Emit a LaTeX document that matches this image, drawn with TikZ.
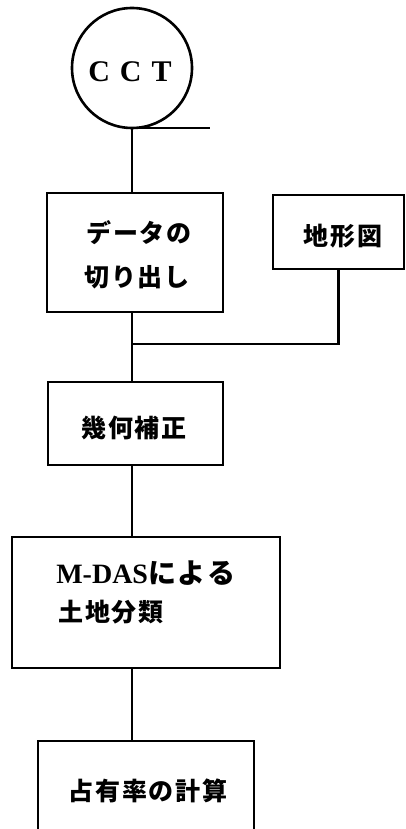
\documentclass[tikz,border=0pt]{standalone}
\usepackage{fontspec}
\setmainfont{Liberation Serif}
\newfontfamily\jpfont[LetterSpace=7]{Noto Sans CJK JP}
\newcommand{\jp}[1]{{\jpfont\bfseries #1}}
\begin{document}
\begin{tikzpicture}[x=1pt,y=-1pt,
  line width=2.6pt,
  boxnode/.style={draw,rectangle,inner sep=0pt,outer sep=0pt},
  txt/.style={inner sep=0pt,font=\fontsize{25}{28}\selectfont},
  lat/.style={inner sep=0pt,font=\fontsize{30}{34}\selectfont\bfseries}]
\clip (0,0) rectangle (406,829);
\fill[white] (0,0) rectangle (406,829);
% circle
\node[draw,circle,minimum size=120pt,inner sep=0pt,outer sep=0pt] (cct) at (132,68) {};
\node[lat] (cctt) at (130,72) {C\,\,C\,\,T};
\coordinate (tagend) at (210,128);
% boxes
\node[boxnode,minimum width=176pt,minimum height=119pt] (cut) at (135,252.5) {};
\node[boxnode,minimum width=131pt,minimum height=74pt] (topo) at (338.5,232) {};
\node[boxnode,minimum width=175pt,minimum height=83pt] (geo) at (135.5,423.5) {};
\node[boxnode,minimum width=268pt,minimum height=131pt] (mdas) at (146,602.5) {};
\node[boxnode,minimum width=216pt,minimum height=130pt] (occ) at (146,806) {};
% texts
\node[txt] (t1a) at (139,233) {\jp{データの}};
\node[txt] (t1b) at (137,277) {\jp{切り出し}};
\node[txt] (t2) at (343,236) {\jp{地形図}};
\node[txt] (t3) at (134,428) {\jp{幾何補正}};
\node[txt,anchor=west] (t4a) at (55,573) {\fontsize{28}{30}\selectfont\bfseries M-DAS\jp{による}};
\node[txt,anchor=west] (t4b) at (57,612) {\jp{土地分類}};
\node[txt] (t5) at (148,791) {\jp{占有率の計算}};
% connectors
\coordinate (j) at (cct.south |- 0,344);
\draw (cct.south) -- (tagend);
\draw (cct.south) -- (cct.south |- cut.north);
\draw (cct.south |- cut.south) -- (j) -- (cct.south |- geo.north);
\draw (topo.south) |- (j);
\draw (cct.south |- geo.south) -- (cct.south |- mdas.north);
\draw (cct.south |- mdas.south) -- (cct.south |- occ.north);
\end{tikzpicture}
\end{document}
